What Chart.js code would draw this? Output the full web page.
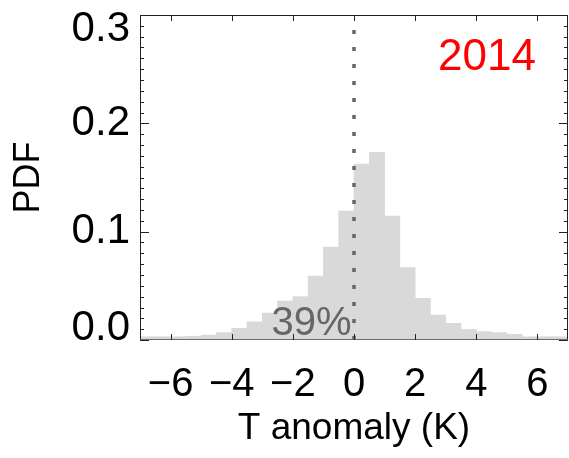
<!DOCTYPE html>
<html>
<head>
<meta charset="utf-8">
<script src="https://cdn.jsdelivr.net/npm/chart.js@4"></script>
<style>
  html, body { margin: 0; padding: 0; background: #fff; }
  #wrap { width: 569px; height: 458px; }
</style>
</head>
<body>
<div id="wrap"><canvas id="pdf-chart"></canvas></div>
<script>
// histogram bins (K), width 0.5
const binCenters = [-6.75, -6.25, -5.75, -5.25, -4.75, -4.25, -3.75, -3.25, -2.75, -2.25,
    -1.75, -1.25, -0.75, -0.25, 0.25, 0.75, 1.25, 1.75, 2.25, 2.75,
    3.25, 3.75, 4.25, 4.75, 5.25, 5.75, 6.25, 6.75];
const pdfValues = [0.003, 0.003, 0.003, 0.0035, 0.0045, 0.0068, 0.0108, 0.0168, 0.0248, 0.036,
    0.040, 0.059, 0.0858, 0.119, 0.1625, 0.1732, 0.1145, 0.0668, 0.0385, 0.023,
    0.0154, 0.0098, 0.0077, 0.0068, 0.0052, 0.003, 0.003, 0.003];
const zeroLineX = [0, 0];
const zeroLineY = [0, 0.29];
const xTicks = [-6, -4, -2, 0, 2, 4, 6];
const yTicks = [0, 0.1, 0.2, 0.3];
const yearLabel = '2014';
const shareBelowZero = '39%';

const FONT = '"Liberation Sans", Arial, sans-serif';

// inward ticks + frame, like the IDL box
const framePlugin = {
    id: 'frame',
    afterDatasetsDraw(chart) {
        const {ctx, chartArea: a, scales: {x, y}} = chart;
        ctx.save();
        ctx.lineWidth = 1;
        ctx.strokeStyle = '#222';
        ctx.beginPath();
        ctx.moveTo(a.left + 0.5, a.bottom);
        ctx.lineTo(a.left + 0.5, a.top + 0.5);
        ctx.lineTo(a.right - 0.5, a.top + 0.5);
        ctx.lineTo(a.right - 0.5, a.bottom);
        ctx.stroke();
        ctx.strokeStyle = '#6e6e6e';
        ctx.beginPath();
        ctx.moveTo(a.left, a.bottom - 0.5);
        ctx.lineTo(a.right, a.bottom - 0.5);
        ctx.stroke();

        ctx.strokeStyle = '#222';
        ctx.beginPath();
        xTicks.forEach((v) => {
            const px = Math.round(x.getPixelForValue(v)) + 0.5;
            ctx.moveTo(px, a.top); ctx.lineTo(px, a.top + 6);
            ctx.moveTo(px, a.bottom); ctx.lineTo(px, a.bottom - 6);
        });
        for (let i = 0; i <= 30; i++) {
            const py = Math.round(y.getPixelForValue(i / 100)) + 0.5;
            const len = i % 10 === 0 ? 9 : 4;
            ctx.moveTo(a.left, py); ctx.lineTo(a.left + len, py);
            ctx.moveTo(a.right, py); ctx.lineTo(a.right - len, py);
        }
        ctx.stroke();

        // y tick labels, kept inside the box height like IDL does
        ctx.fillStyle = '#000';
        ctx.font = '42px ' + FONT;
        ctx.textAlign = 'right';
        ctx.textBaseline = 'middle';
        yTicks.forEach((v) => {
            let py = y.getPixelForValue(v);
            py = Math.min(Math.max(py, a.top + 14), a.bottom - 12);
            ctx.fillText(v.toFixed(1), a.left - 10, py);
        });
        ctx.restore();
    }
};

const notesPlugin = {
    id: 'notes',
    afterDraw(chart, args, opts) {
        const {ctx, scales: {x, y}} = chart;
        ctx.save();
        opts.items.forEach((it) => {
            ctx.font = it.size + 'px ' + FONT;
            ctx.fillStyle = it.color;
            ctx.textAlign = it.align;
            ctx.textBaseline = 'alphabetic';
            ctx.fillText(it.text, x.getPixelForValue(it.x), y.getPixelForValue(it.y));
        });
        ctx.restore();
    }
};

const ctx = document.getElementById('pdf-chart').getContext('2d');
new Chart(ctx, {
    type: 'bar',
    data: {
        datasets: [
            {
                type: 'line',
                data: zeroLineX.map((v, i) => ({x: v, y: zeroLineY[i]})),
                borderColor: '#666',
                borderWidth: 3.5,
                borderDash: [4, 13],
                borderCapStyle: 'butt',
                pointRadius: 0,
                fill: false,
                order: 0
            },
            {
                type: 'bar',
                data: binCenters.map((v, i) => ({x: v, y: pdfValues[i]})),
                backgroundColor: '#d9d9d9',
                borderWidth: 0,
                barPercentage: 1,
                categoryPercentage: 1,
                order: 1
            }
        ]
    },
    options: {
        responsive: true,
        maintainAspectRatio: false,
        animation: false,
        layout: {padding: {top: 15, right: 1, left: 0, bottom: 0}},
        plugins: {
            legend: {display: false},
            tooltip: {enabled: false},
            notes: {
                items: [
                    {text: shareBelowZero, x: -0.08, y: 0.0045, align: 'right', color: '#666', size: 40},
                    {text: yearLabel, x: 5.95, y: 0.249, align: 'right', color: '#ff0000', size: 44}
                ]
            }
        },
        scales: {
            x: {
                type: 'linear',
                min: -7,
                max: 7,
                offset: false,
                grid: {display: false, drawTicks: false, offset: false},
                border: {display: false},
                afterBuildTicks: (scale) => { scale.ticks = xTicks.map((v) => ({value: v})); },
                afterFit: (scale) => {
                    scale.height = 118;
                    scale.paddingLeft = 0;
                    scale.paddingRight = 0;
                },
                ticks: {
                    autoSkip: false,
                    maxRotation: 0,
                    padding: 25,
                    color: '#000',
                    font: {family: FONT, size: 40, lineHeight: 1},
                    callback: (v) => (v < 0 ? '\u2212' + Math.abs(v) : String(v))
                },
                title: {
                    display: true,
                    text: 'T anomaly (K)',
                    color: '#000',
                    font: {family: FONT, size: 37, lineHeight: 1},
                    padding: {top: 0, bottom: 11}
                }
            },
            y: {
                min: 0,
                max: 0.3,
                grid: {display: false, drawTicks: false},
                border: {display: false},
                afterFit: (scale) => {
                    scale.width = 140;
                    scale.paddingTop = 0;
                    scale.paddingBottom = 0;
                },
                ticks: {display: false},
                title: {
                    display: true,
                    text: 'PDF',
                    color: '#000',
                    font: {family: FONT, size: 36, lineHeight: 1},
                    padding: {top: 11, bottom: 0}
                }
            }
        }
    },
    plugins: [framePlugin, notesPlugin]
});
</script>
</body>
</html>
